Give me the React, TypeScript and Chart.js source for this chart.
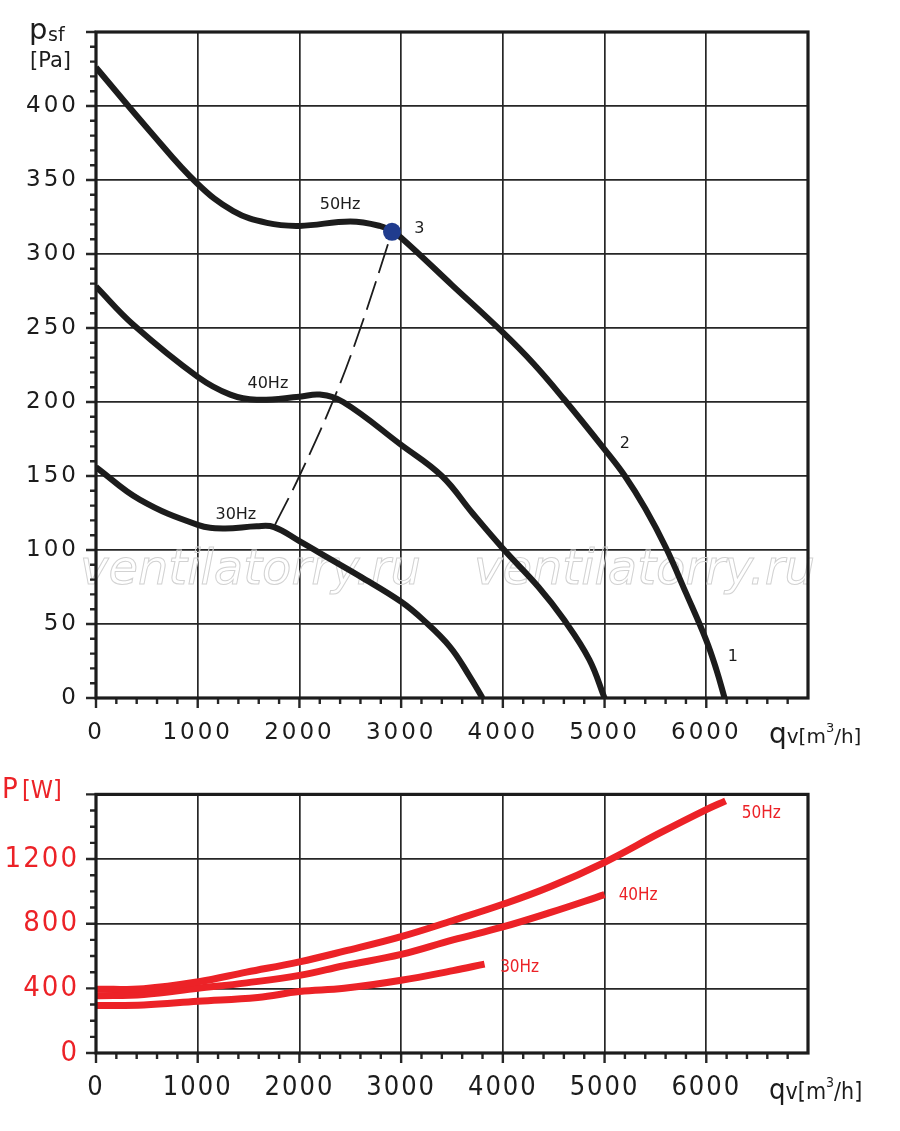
import React, { useEffect, useRef } from "react";
import { Chart, registerables } from "chart.js";

Chart.register(...registerables);

// ---------- pressure curves (q in m3/h, p in Pa) ----------
const q50 = [0, 530, 990, 1350, 1680, 2000, 2500, 2790, 2910, 3000, 3500, 4000, 4300, 4600, 5000, 5200, 5400, 5600, 5800, 6000, 6100, 6180];
const p50 = [426, 383, 348, 329, 321, 319, 322, 319, 315, 311, 279, 247, 226, 202, 168, 150, 128, 102, 71, 39, 19, 0];

const q40 = [0, 370, 1000, 1320, 1580, 2000, 2200, 2430, 3000, 3400, 3700, 4000, 4350, 4600, 4850, 5000];
const p40 = [278, 252, 217, 205, 201.5, 203.5, 205, 200, 171, 150, 125, 101, 75, 53, 26, 0];

const q30 = [0, 430, 1000, 1250, 1580, 1750, 2000, 2300, 2600, 3000, 3220, 3480, 3670, 3800];
const p30 = [156, 134, 117, 114.5, 116, 115.5, 106, 94, 82, 65, 52.6, 34.6, 15, 0];

// system curve (dashed) and operating point
const qSys = [1760, 2000, 2350, 2600, 2910];
const pSys = [117, 150, 204, 250, 315];
const qPoint = [2910];
const pPoint = [315];

// labels in the pressure chart
const hzNames = ["50Hz", "40Hz", "30Hz"];
const hzQ = [2400, 1690, 1375];
const hzP = [333, 212, 124];
const markNames = ["3", "2", "1"];
const markQ = [3180, 5200, 6260];
const markP = [317, 172, 28];

// ---------- power curves (P in W) ----------
const qW50 = [0, 470, 1000, 1480, 2000, 2440, 3000, 3510, 4000, 4470, 5000, 5540, 6000, 6190];
const pW50 = [394, 398, 440, 500, 564, 630, 720, 820, 920, 1030, 1180, 1360, 1506, 1560];
const qW40 = [0, 470, 1000, 1480, 2000, 2440, 3000, 3510, 4000, 4470, 5000];
const pW40 = [354, 362, 400, 434, 480, 540, 610, 700, 780, 870, 980];
const qW30 = [0, 470, 1000, 1590, 2000, 2440, 3000, 3510, 3820];
const pW30 = [294, 297, 320, 344, 380, 400, 450, 510, 550];

const powerNames = ["50Hz", "40Hz", "30Hz"];
const powerQ = [6540, 5330, 4165];
const powerP = [1482, 972, 528];

// axes
const qMax = 7000;
const qStep = 1000;
const qMinor = 200;
const pMax = 450;
const pStep = 50;
const pMinor = 10;
const wMax = 1600;
const wStep = 400;
const wMinor = 100;

const BLACK = "#1c1c1c";
const GRID = "#262626";
const RED = "#ec2227";
const BLUE = "#203c8e";
const SANS = "'DejaVu Sans', sans-serif";
const COND = "'DejaVu Sans Condensed', 'DejaVu Sans', sans-serif";

const pts = (xs: number[], ys: number[]) => xs.map((x, i) => ({ x, y: ys[i] }));

function makeFramePlugin(xMinorStep: number, xMajorStep: number, xLast: number, yMinorStep: number, yMajorStep: number, yMax: number, letterSpacing: string) {
  return {
    id: "frame",
    beforeDraw(chart: any) {
      chart.ctx.letterSpacing = letterSpacing;
    },
    afterDraw(chart: any) {
      const ctx = chart.ctx;
      const a = chart.chartArea;
      const xs = chart.scales.x;
      const ys = chart.scales.y;
      ctx.save();
      ctx.strokeStyle = GRID;
      ctx.lineWidth = 2.4;
      ctx.beginPath();
      for (let v = 0; v <= xLast; v += xMinorStep) {
        const px = xs.getPixelForValue(v);
        const len = v % xMajorStep === 0 ? 10 : 6;
        ctx.moveTo(px, a.bottom);
        ctx.lineTo(px, a.bottom + len);
      }
      for (let v = 0; v <= yMax; v += yMinorStep) {
        const py = ys.getPixelForValue(v);
        const len = v % yMajorStep === 0 ? 10 : 6;
        ctx.moveTo(a.left, py);
        ctx.lineTo(a.left - len, py);
      }
      ctx.stroke();
      ctx.lineWidth = 3.2;
      ctx.strokeStyle = BLACK;
      ctx.strokeRect(a.left, a.top, a.right - a.left, a.bottom - a.top);
      ctx.restore();
    },
  };
}

const watermarkPlugin = {
  id: "watermark",
  beforeDatasetsDraw(chart: any) {
    const ctx = chart.ctx;
    ctx.save();
    ctx.letterSpacing = "0px";
    ctx.font = `italic 48px ${SANS}`;
    ctx.strokeStyle = "#d2d2d2";
    ctx.lineWidth = 1;
    ctx.textBaseline = "alphabetic";
    ctx.textAlign = "left";
    ctx.strokeText("ventilatorry.ru", 80, 584);
    ctx.strokeText("ventilatorry.ru", 474, 584);
    ctx.restore();
  },
};

function labelsPlugin(names: string[], qs: number[], ps: number[], font: string, color: string) {
  return {
    id: "curveLabels" + names.join(""),
    afterDatasetsDraw(chart: any) {
      const ctx = chart.ctx;
      ctx.save();
      ctx.letterSpacing = "0px";
      ctx.font = font;
      ctx.fillStyle = color;
      ctx.textAlign = "center";
      ctx.textBaseline = "middle";
      names.forEach((n, i) => {
        ctx.fillText(n, chart.scales.x.getPixelForValue(qs[i]), chart.scales.y.getPixelForValue(ps[i]));
      });
      ctx.restore();
    },
  };
}

const topTitles = {
  id: "topTitles",
  afterDraw(chart: any) {
    const ctx = chart.ctx;
    ctx.save();
    ctx.letterSpacing = "0px";
    ctx.fillStyle = BLACK;
    ctx.textAlign = "left";
    ctx.textBaseline = "alphabetic";
    ctx.font = `29px ${SANS}`;
    ctx.fillText("p", 29, 39);
    ctx.font = `19px ${SANS}`;
    ctx.fillText("sf", 48, 41);
    ctx.font = `21px ${SANS}`;
    ctx.fillText("[Pa]", 30, 67);
    // qv[m3/h]
    let x = 769;
    ctx.font = `28px ${SANS}`;
    ctx.fillText("q", x, 743);
    x += ctx.measureText("q").width;
    ctx.font = `20px ${SANS}`;
    ctx.fillText("v[m", x, 743);
    x += ctx.measureText("v[m").width;
    ctx.font = `13px ${SANS}`;
    ctx.fillText("3", x, 732);
    x += ctx.measureText("3").width;
    ctx.font = `20px ${SANS}`;
    ctx.fillText("/h]", x, 743);
    ctx.restore();
  },
};

const bottomTitles = {
  id: "bottomTitles",
  afterDraw(chart: any) {
    const ctx = chart.ctx;
    ctx.save();
    ctx.letterSpacing = "0px";
    ctx.textAlign = "left";
    ctx.textBaseline = "alphabetic";
    ctx.fillStyle = RED;
    ctx.font = `29px ${COND}`;
    ctx.fillText("P", 2, 38);
    ctx.font = `25px ${COND}`;
    ctx.fillText("[W]", 22, 38);
    ctx.fillStyle = BLACK;
    let x = 769;
    ctx.font = `29px ${COND}`;
    ctx.fillText("q", x, 339);
    x += ctx.measureText("q").width;
    ctx.font = `23px ${COND}`;
    ctx.fillText("v[m", x, 339);
    x += ctx.measureText("v[m").width;
    ctx.font = `14px ${COND}`;
    ctx.fillText("3", x, 327);
    x += ctx.measureText("3").width;
    ctx.font = `23px ${COND}`;
    ctx.fillText("/h]", x, 339);
    ctx.restore();
  },
};

export default function App() {
  const topRef = useRef<HTMLCanvasElement | null>(null);
  const botRef = useRef<HTMLCanvasElement | null>(null);

  useEffect(() => {
    document.body.style.margin = "0";
    const curve = (data: any, color: string, width: number) => ({
      data,
      borderColor: color,
      borderWidth: width,
      pointRadius: 0,
      fill: false,
      tension: 0.4,
      borderCapStyle: "butt" as const,
      borderJoinStyle: "round" as const,
    });

    const top = new Chart(topRef.current as HTMLCanvasElement, {
      type: "line",
      data: {
        datasets: [
          { ...curve(pts(q50, p50), BLACK, 6), order: 2 },
          { ...curve(pts(q40, p40), BLACK, 6), order: 2 },
          { ...curve(pts(q30, p30), BLACK, 6), order: 2 },
          {
            data: pts(qSys, pSys),
            borderColor: BLACK,
            borderWidth: 1.8,
            borderDash: [30, 9],
            pointRadius: 0,
            tension: 0.4,
            fill: false,
            order: 3,
          },
          {
            data: pts(qPoint, pPoint),
            showLine: false,
            pointRadius: 9,
            pointBackgroundColor: BLUE,
            pointBorderWidth: 0,
            order: 0,
          },
        ],
      },
      options: {
        animation: false,
        responsive: false,
        events: [],
        layout: { padding: { top: 32, right: 92, left: 0, bottom: 0 } },
        plugins: { legend: { display: false }, tooltip: { enabled: false } },
        scales: {
          x: {
            type: "linear",
            min: 0,
            max: qMax,
            ticks: {
              stepSize: qStep,
              padding: 21,
              color: BLACK,
              font: { family: SANS, size: 23 },
              maxRotation: 0,
              callback: (v: any) => (v === qMax ? "" : String(v)),
            },
            grid: { color: GRID, lineWidth: 1.7, drawTicks: false },
            border: { display: false },
            afterFit: (s: any) => {
              s.height = 62;
            },
          },
          y: {
            type: "linear",
            min: 0,
            max: pMax,
            ticks: {
              stepSize: pStep,
              padding: 17,
              color: BLACK,
              font: { family: SANS, size: 23 },
              callback: (v: any) => (v === pMax ? "" : String(v)),
            },
            grid: { color: GRID, lineWidth: 1.7, drawTicks: false },
            border: { display: false },
            afterFit: (s: any) => {
              s.width = 96;
            },
          },
        },
      },
      plugins: [
        makeFramePlugin(qMinor, qStep, qMax - qMinor, pMinor, pStep, pMax, "3px"),
        watermarkPlugin,
        labelsPlugin(hzNames, hzQ, hzP, `16px ${SANS}`, BLACK),
        labelsPlugin(markNames, markQ, markP, `16px ${SANS}`, BLACK),
        topTitles,
      ],
    } as any);

    const bot = new Chart(botRef.current as HTMLCanvasElement, {
      type: "line",
      data: {
        datasets: [
          curve(pts(qW50, pW50), RED, 7),
          curve(pts(qW40, pW40), RED, 7),
          curve(pts(qW30, pW30), RED, 7),
        ],
      },
      options: {
        animation: false,
        responsive: false,
        events: [],
        layout: { padding: { top: 27, right: 92, left: 0, bottom: 0 } },
        plugins: { legend: { display: false }, tooltip: { enabled: false } },
        scales: {
          x: {
            type: "linear",
            min: 0,
            max: qMax,
            ticks: {
              stepSize: qStep,
              padding: 19,
              color: BLACK,
              font: { family: COND, size: 27 },
              maxRotation: 0,
              callback: (v: any) => (v === qMax ? "" : String(v)),
            },
            grid: { color: GRID, lineWidth: 1.7, drawTicks: false },
            border: { display: false },
            afterFit: (s: any) => {
              s.height = 78;
            },
          },
          y: {
            type: "linear",
            min: 0,
            max: wMax,
            ticks: {
              stepSize: wStep,
              padding: 17,
              color: RED,
              font: { family: COND, size: 29 },
              callback: (v: any) => (v === wMax ? "" : String(v)),
            },
            grid: { color: GRID, lineWidth: 1.7, drawTicks: false },
            border: { display: false },
            afterFit: (s: any) => {
              s.width = 96;
            },
          },
        },
      },
      plugins: [
        makeFramePlugin(qMinor, qStep, qMax - qMinor, wMinor, wStep, wMax, "2px"),
        labelsPlugin(powerNames, powerQ, powerP, `17px ${COND}`, RED),
        bottomTitles,
      ],
    } as any);

    return () => {
      top.destroy();
      bot.destroy();
    };
  }, []);

  return (
    <div style={{ position: "relative", width: 900, height: 1131, background: "#fff" }}>
      <canvas ref={topRef} width={900} height={760} style={{ position: "absolute", left: 0, top: 0, width: 900, height: 760 }} />
      <canvas ref={botRef} width={900} height={371} style={{ position: "absolute", left: 0, top: 760, width: 900, height: 371 }} />
    </div>
  );
}
